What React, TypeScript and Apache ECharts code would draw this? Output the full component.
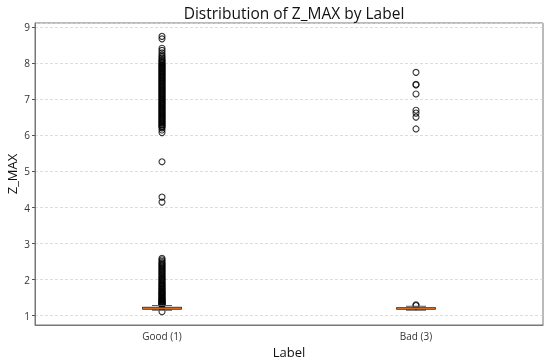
import React, { useEffect, useRef } from "react";
import * as echarts from "echarts";

const categories = ["Good (1)", "Bad (3)"];
// [whiskerLow, Q1, median, Q3, whiskerHigh]
const boxStats = [
  [1.15, 1.18, 1.2, 1.23, 1.28],
  [1.15, 1.18, 1.2, 1.22, 1.26],
];
const goodOutliers = [
  1.11,
  1.29, 1.3, 1.32, 1.33, 1.35, 1.36, 1.38, 1.39, 1.41, 1.42, 1.44, 1.46, 1.47, 1.49,
  1.51, 1.53, 1.55, 1.57, 1.59, 1.61, 1.63, 1.65, 1.67, 1.69, 1.72, 1.74, 1.76, 1.79,
  1.81, 1.84, 1.86, 1.89, 1.91, 1.94, 1.97, 2.0, 2.02, 2.05, 2.08, 2.11, 2.14, 2.17,
  2.2, 2.23, 2.26, 2.29, 2.32, 2.35, 2.38, 2.41, 2.44, 2.47, 2.51, 2.55, 2.59,
  4.15, 4.29, 5.27,
  6.08, 6.15, 6.21, 6.24, 6.26, 6.29, 6.31, 6.34, 6.36, 6.39, 6.41, 6.44, 6.46, 6.49,
  6.51, 6.54, 6.56, 6.59, 6.61, 6.64, 6.66, 6.69, 6.71, 6.74, 6.76, 6.79, 6.81, 6.84,
  6.86, 6.89, 6.91, 6.94, 6.96, 6.99, 7.01, 7.04, 7.06, 7.09, 7.11, 7.14, 7.16, 7.19,
  7.21, 7.24, 7.26, 7.29, 7.31, 7.34, 7.36, 7.39, 7.41, 7.44, 7.46, 7.49, 7.51, 7.54,
  7.56, 7.59, 7.61, 7.64, 7.66, 7.69, 7.71, 7.74, 7.76, 7.79, 7.81, 7.84, 7.86, 7.89,
  7.91, 7.94, 7.96, 7.99, 8.02, 8.05, 8.08, 8.11, 8.15, 8.19, 8.23, 8.29, 8.36, 8.42,
  8.68, 8.75,
];
const badOutliers = [1.28, 1.3, 6.18, 6.51, 6.62, 6.7, 7.15, 7.4, 7.42, 7.75];

export default function App() {
  const ref = useRef<HTMLDivElement>(null);
  useEffect(() => {
    if (!ref.current) return;
    const chart = echarts.init(ref.current, null, { renderer: "svg" });
    const font = "'Open Sans', 'Noto Sans', sans-serif";
    const outlierData: number[][] = [];
    goodOutliers.forEach((v) => outlierData.push([0, v]));
    badOutliers.forEach((v) => outlierData.push([1, v]));
    chart.setOption({
      animation: false,
      textStyle: { fontFamily: font },
      title: {
        text: "Distribution of Z_MAX by Label",
        left: 289,
        textAlign: "center",
        top: 0,
        textStyle: { fontSize: 15.5, fontWeight: "normal", color: "#111", fontFamily: font },
      },
      grid: {
        left: 35,
        right: 7,
        top: 23,
        bottom: 38,
        containLabel: false,
        outerBoundsMode: "none",
        show: true,
        borderColor: "#777",
        borderWidth: 1,
        backgroundColor: "#fff",
      },
      xAxis: {
        type: "category",
        data: categories,
        boundaryGap: true,
        name: "Label",
        nameLocation: "middle",
        nameGap: 20,
        nameMoveOverlap: false,
        nameTextStyle: { fontSize: 13, color: "#111", fontFamily: font },
        axisLine: { lineStyle: { color: "#777" } },
        axisTick: { alignWithLabel: true, length: 3, lineStyle: { color: "#555" } },
        axisLabel: { fontSize: 10, color: "#333", margin: 6, fontFamily: font },
        splitLine: { show: false },
      },
      yAxis: {
        type: "value",
        min: 0.74,
        max: 9.12,
        splitNumber: 8,
        name: "Z_MAX",
        nameLocation: "middle",
        nameGap: 17,
        nameMoveOverlap: false,
        nameTextStyle: { fontSize: 13, color: "#111", fontFamily: font },
        axisLine: { show: true, lineStyle: { color: "#777" } },
        axisTick: { show: true, length: 3, lineStyle: { color: "#555" } },
        axisLabel: { fontSize: 10, color: "#333", margin: 5, showMinLabel: false, showMaxLabel: false, fontFamily: font },
        splitLine: { show: true, lineStyle: { color: "#d4d4d4", type: [3, 2], width: 0.8 } },
      },
      series: [
        {
          type: "scatter",
          data: outlierData,
          symbol: "circle",
          symbolSize: 6,
          itemStyle: { color: "rgba(255,255,255,0)", borderColor: "#000", borderWidth: 1.1 },
          z: 3,
        },
        {
          type: "custom",
          data: boxStats.map((s, i) => [i, ...s]),
          z: 5,
          renderItem: (params: any, api: any) => {
            const x = api.value(0);
            const pLow = api.coord([x, api.value(1)]);
            const pQ1 = api.coord([x, api.value(2)]);
            const pMed = api.coord([x, api.value(3)]);
            const pQ3 = api.coord([x, api.value(4)]);
            const pHigh = api.coord([x, api.value(5)]);
            const bw = 39;
            const cw = 20;
            const cx = pMed[0];
            const black = { stroke: "#000", lineWidth: 1 };
            return {
              type: "group",
              children: [
                { type: "line", shape: { x1: cx, y1: pQ1[1], x2: cx, y2: pLow[1] }, style: black },
                { type: "line", shape: { x1: cx, y1: pQ3[1], x2: cx, y2: pHigh[1] }, style: black },
                { type: "line", shape: { x1: cx - cw / 2, y1: pLow[1], x2: cx + cw / 2, y2: pLow[1] }, style: { stroke: "#555", lineWidth: 1 } },
                { type: "line", shape: { x1: cx - cw / 2, y1: pHigh[1], x2: cx + cw / 2, y2: pHigh[1] }, style: { stroke: "#555", lineWidth: 1 } },
                {
                  type: "rect",
                  shape: { x: cx - bw / 2, y: pQ3[1], width: bw, height: Math.max(pQ1[1] - pQ3[1], 0.5) },
                  style: { fill: "none", stroke: "#000", lineWidth: 1 },
                },
                { type: "line", shape: { x1: cx - bw / 2, y1: pMed[1], x2: cx + bw / 2, y2: pMed[1] }, style: { stroke: "#d2691e", lineWidth: 1.8 } },
              ],
            };
          },
        },
      ],
    });
    return () => chart.dispose();
  }, []);
  return <div ref={ref} style={{ position: "fixed", left: 0, top: 0, width: 550, height: 363 }} />;
}
